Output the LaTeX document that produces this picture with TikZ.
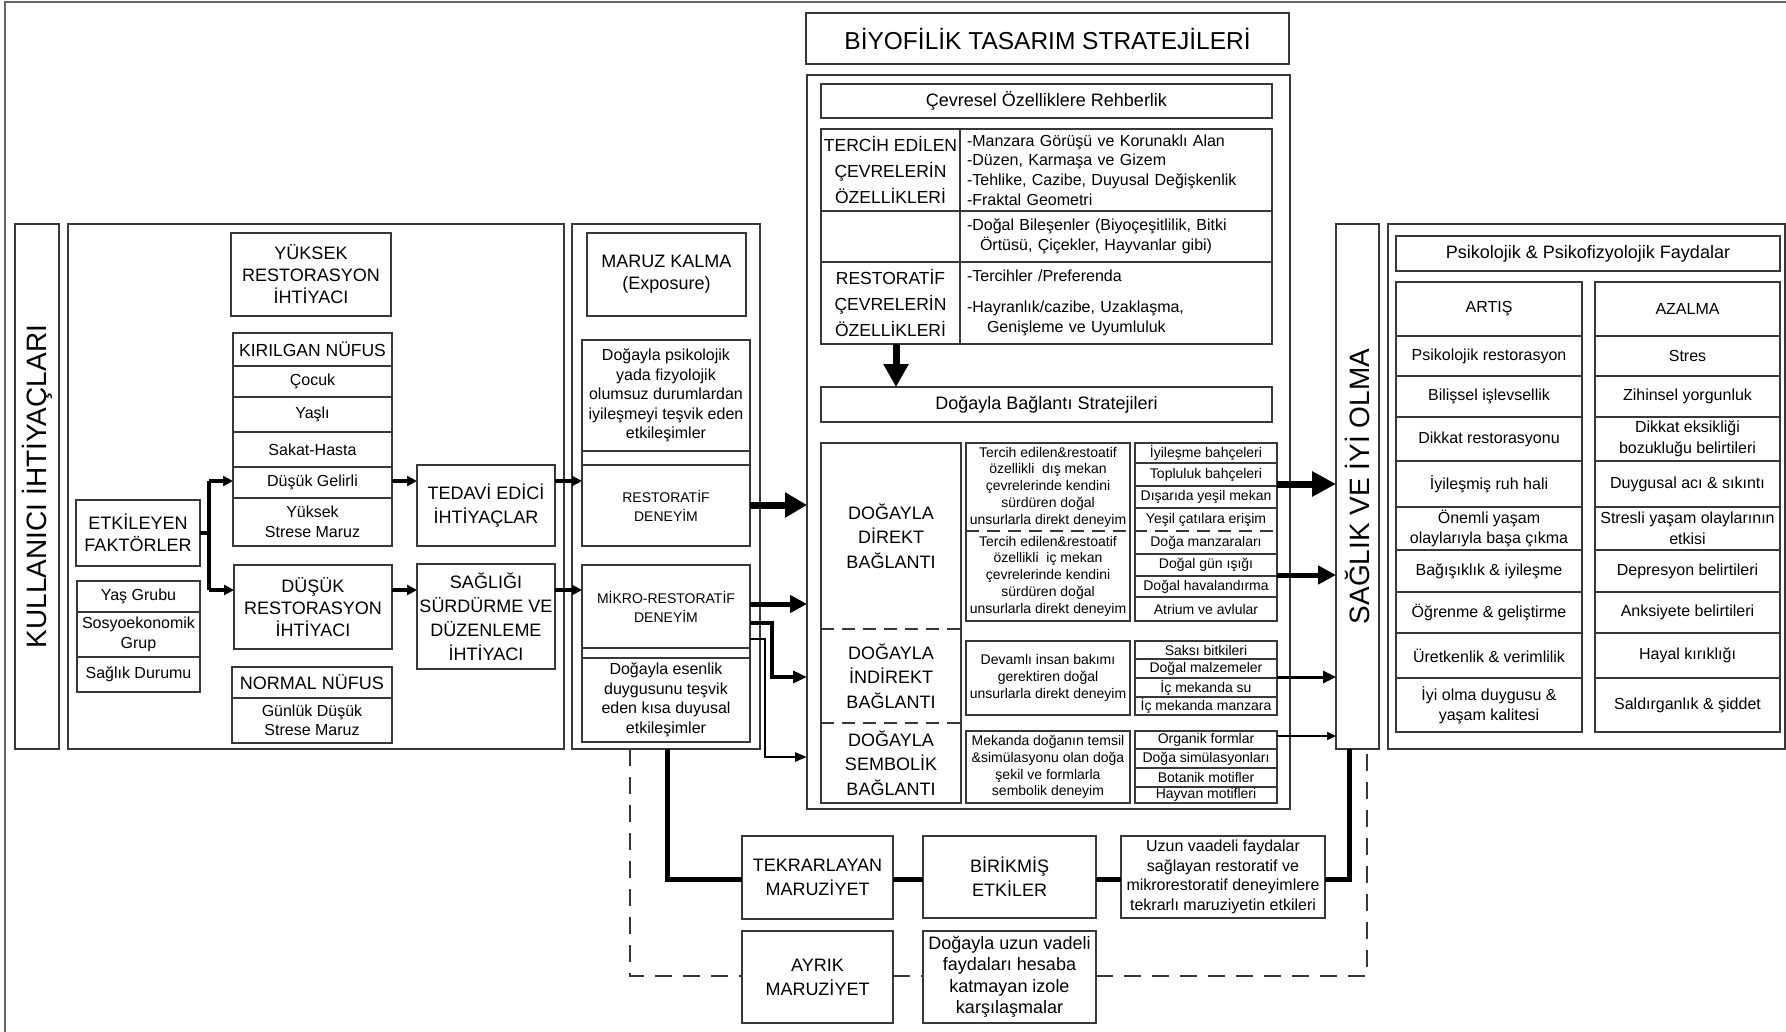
\documentclass[tikz,border=0pt]{standalone}
\usepackage{fontspec}
\usepackage{graphicx}
\setmainfont{Liberation Sans}
\usetikzlibrary{arrows.meta}

\newcommand{\bxn}[7][]{\node[bx,#1,minimum width={#5-#3},minimum height={#6-#4}] (#2) at ({(#3+#5)/2},{(#4+#6)/2}) {#7};}

\tikzset{
 bx/.style={draw=black!78, line width=1.8pt, inner sep=1pt, outer sep=0pt, align=center, text=black},
 nb/.style={draw=none},
 bxl/.style={draw=black!78, line width=1.8pt},
 frm/.style={draw=black!60, line width=2pt},
 dsh/.style={draw=black!78, line width=1.8pt, dash pattern=on 13pt off 8pt},
 dshb/.style={draw=black!78, line width=2pt, dash pattern=on 17pt off 11pt},
 thk/.style={draw=black, line width=5pt, line join=miter},
 cellR/.style={align=left, text width=298pt, inner xsep=7pt},
 f28/.style={font=\fontsize{28}{30}\selectfont},
 ftitle/.style={font=\fontsize{24.5}{28}\selectfont},
 f18/.style={font=\fontsize{18}{22}\selectfont},
 f18l/.style={font=\fontsize{18}{24}\selectfont},
 f18t/.style={font=\fontsize{17.5}{26}\selectfont},
 f18d/.style={font=\fontsize{18}{24.5}\selectfont},
 f18u/.style={font=\fontsize{18}{21.5}\selectfont},
 f175/.style={font=\fontsize{17.5}{20}\selectfont},
 f16/.style={font=\fontsize{16}{19.5}\selectfont},
 f16a/.style={font=\fontsize{16}{20.5}\selectfont},
 f16r/.style={font=\fontsize{16}{19.7}\selectfont},
 f14/.style={font=\fontsize{14}{16.7}\selectfont},
 f14r/.style={font=\fontsize{14}{16}\selectfont},
 f14s/.style={font=\fontsize{14}{19}\selectfont},
 sar/.style={draw=black, line width=3.5pt, -{Triangle[length=10pt,width=10pt]}},
 arA/.style={draw=black, line width=7pt, -{Triangle[length=22pt,width=24pt]}},
 arB/.style={draw=black, line width=5pt, -{Triangle[length=17pt,width=17pt]}},
 arC/.style={draw=black, line width=3.5pt, line join=miter, -{Triangle[length=14pt,width=12pt]}},
 arD/.style={draw=black, line width=2.5pt, line join=miter, -{Triangle[length=12pt,width=9pt]}},
 arA2/.style={draw=black, line width=7pt, -{Triangle[length=24pt,width=24pt]}},
 arB2/.style={draw=black, line width=5pt, -{Triangle[length=18pt,width=18pt]}},
 arC2/.style={draw=black, line width=3pt, -{Triangle[length=13pt,width=12pt]}},
 arD2/.style={draw=black, line width=2pt, -{Triangle[length=9pt,width=8pt]}},
 arDn/.style={draw=black, line width=7pt, -{Triangle[length=23pt,width=24pt]}},
}

\begin{document}
\begin{tikzpicture}[x=1pt,y=-1pt]
\useasboundingbox (0,0) rectangle (1786,1032);
\fill[white] (0,0) rectangle (1786,1032);
% outer frame (top and left)
\draw[frm] (5,1032) -- (5,2) -- (1786,2);

% ===== Left group =====
\bxn{kul}{15}{224}{59}{749}{\rotatebox{90}{\fontsize{28}{30}\selectfont KULLANICI İHTİYAÇLARI}}
\bxn{lmain}{68}{224}{564}{749}{}
\bxn[f18]{yuk}{231}{233}{391}{316}{YÜKSEK\\RESTORASYON\\İHTİYACI}
\bxn[f175]{kir}{233}{333}{392}{366}{KIRILGAN NÜFUS}
\bxn[f16]{coc}{233}{366}{392}{397}{Çocuk}
\bxn[f16]{yasli}{233}{397}{392}{432}{Yaşlı}
\bxn[f16]{sak}{233}{432}{392}{467}{Sakat-Hasta}
\bxn[f16]{dgel}{233}{467}{392}{498}{Düşük Gelirli}
\bxn[f16]{ystr}{233}{498}{392}{546}{Yüksek\\Strese Maruz}
\bxn[f18]{etk}{76}{500}{200}{566}{ETKİLEYEN\\FAKTÖRLER}
\bxn[f16]{yg}{77}{581}{200}{612}{Yaş Grubu}
\bxn[f16]{sos}{77}{612}{200}{657}{Sosyoekonomik\\Grup}
\bxn[f16]{sd}{77}{657}{200}{692}{Sağlık Durumu}
\bxn[f18]{dus}{234}{565}{392}{649}{DÜŞÜK\\RESTORASYON\\İHTİYACI}
\bxn[f18]{nor}{232}{667}{392}{698}{NORMAL NÜFUS}
\bxn[f16]{gun}{232}{698}{392}{743}{Günlük Düşük\\Strese Maruz}
\bxn[f18l]{ted}{417}{465}{555}{546}{TEDAVİ EDİCİ\\İHTİYAÇLAR}
\bxn[f18l]{sgl}{417}{564}{555}{669}{SAĞLIĞI\\SÜRDÜRME VE\\DÜZENLEME\\İHTİYACI}

\coordinate (br) at (209,533);
\coordinate (brT) at (209,481);
\coordinate (brB) at (209,590);
\draw[draw=black, line width=4pt] (etk.east |- br) -- (br);
\draw[draw=black, line width=4pt] (brT) -- (brB);
\draw[sar] (brT) -- (dgel.west |- brT);
\draw[sar] (brB) -- (dus.west |- brB);
\draw[sar] (dgel.east |- brT) -- (ted.west |- brT);
\draw[sar] (dus.east |- brB) -- (sgl.west |- brB);

% ===== Exposure column =====
\bxn{mcol}{572}{224}{760}{749}{}
\bxn[f18]{mar}{587}{233}{746}{316}{MARUZ KALMA\\(Exposure)}
\bxn[f16]{psk}{582}{340}{750}{451}{Doğayla psikolojik\\yada fizyolojik\\olumsuz durumlardan\\iyileşmeyi teşvik eden\\etkileşimler}
\bxn{strip}{582}{451}{750}{465}{}
\bxn[f14s]{rest}{582}{465}{750}{546}{RESTORATİF\\DENEYİM}
\bxn[f14s]{mik}{582}{565}{750}{648}{MİKRO-RESTORATİF\\DENEYİM}
\bxn{stripb}{582}{648}{750}{658}{}
\bxn[f16]{esen}{582}{658}{750}{742}{Doğayla esenlik\\duygusunu teşvik\\eden kısa duyusal\\etkileşimler}

\draw[sar] (ted.east |- brT) -- (rest.west |- brT);
\draw[sar] (sgl.east |- brB) -- (mik.west |- brB);

% ===== Strategies =====
\bxn[ftitle]{tit}{806}{13}{1289}{64}{BİYOFİLİK TASARIM STRATEJİLERİ}
\bxn{strat}{807}{75}{1290}{809}{}
\bxn[f18]{cev}{821}{84}{1272}{118}{Çevresel Özelliklere Rehberlik}
\bxn[f18t]{t1l}{821}{129}{960}{211}{TERCİH EDİLEN\\ÇEVRELERİN\\ÖZELLİKLERİ}
\bxn[f16r,cellR]{t1r}{960}{129}{1272}{211}{-Manzara Görüşü ve Korunaklı Alan\\-Düzen, Karmaşa ve Gizem\\-Tehlike, Cazibe, Duyusal Değişkenlik\\-Fraktal Geometri}
\bxn{t2l}{821}{211}{960}{262}{}
\bxn[f16r,cellR]{t2r}{960}{211}{1272}{262}{-Doğal Bileşenler (Biyoçeşitlilik, Bitki\\\hspace*{13pt}Örtüsü, Çiçekler, Hayvanlar gibi)}
\bxn[f18t]{t3l}{821}{262}{960}{344}{RESTORATİF\\ÇEVRELERİN\\ÖZELLİKLERİ}
\bxn[f16r,cellR]{t3r}{960}{262}{1272}{344}{-Tercihler /Preferenda\\[11pt]-Hayranlık/cazibe, Uzaklaşma,\\\hspace*{20pt}Genişleme ve Uyumluluk}
\bxn[f18]{bag}{821}{387}{1272}{422}{Doğayla Bağlantı Stratejileri}
\coordinate (dA) at (896,344);
\draw[arDn] (dA) -- (dA |- bag.north);

% left column of connection strategies
\bxn[nb,f18d]{d1}{821}{443}{961}{629}{DOĞAYLA\\DİREKT\\BAĞLANTI}
\bxn[nb,f18d]{d2}{821}{629}{961}{723}{DOĞAYLA\\İNDİREKT\\BAĞLANTI}
\bxn[nb,f18d]{d3}{821}{723}{961}{803}{DOĞAYLA\\SEMBOLİK\\BAĞLANTI}
\draw[bxl] (d1.north west) rectangle (d3.south east);
\draw[dsh] (d1.south west) -- (d1.south east);
\draw[dsh] (d2.south west) -- (d2.south east);

% middle column
\bxn[nb,f14]{a1}{966}{443}{1130}{531}{Tercih edilen\&restoatif\\özellikli\ \ dış mekan\\çevrelerinde kendini\\sürdüren doğal\\unsurlarla direkt deneyim}
\bxn[nb,f14]{a2}{966}{531}{1130}{621}{Tercih edilen\&restoatif\\özellikli\ \ iç mekan\\çevrelerinde kendini\\sürdüren doğal\\unsurlarla direkt deneyim}
\draw[bxl] (a1.north west) rectangle (a2.south east);
\bxn[f14]{b1}{966}{641}{1130}{715}{Devamlı insan bakımı\\gerektiren doğal\\unsurlarla direkt deneyim}
\bxn[f14]{c1}{966}{731}{1130}{803}{Mekanda doğanın temsil\\\&simülasyonu olan doğa\\şekil ve formlarla\\sembolik deneyim}

% right column
\bxn[nb,f14r]{ra1}{1135}{443}{1277}{463}{İyileşme bahçeleri}
\bxn[nb,f14r]{ra2}{1135}{463}{1277}{486}{Topluluk bahçeleri}
\bxn[nb,f14r]{ra3}{1135}{486}{1277}{508}{Dışarıda yeşil mekan}
\bxn[nb,f14r]{ra4}{1135}{508}{1277}{531}{Yeşil çatılara erişim}
\bxn[nb,f14r]{ra5}{1135}{531}{1277}{554}{Doğa manzaraları}
\bxn[nb,f14r]{ra6}{1135}{554}{1277}{576}{Doğal gün ışığı}
\bxn[nb,f14r]{ra7}{1135}{576}{1277}{597}{Doğal havalandırma}
\bxn[nb,f14r]{ra8}{1135}{597}{1277}{621}{Atrium ve avlular}
\draw[bxl] (ra1.north west) rectangle (ra8.south east);
\foreach \n in {ra1,ra2,ra3,ra5,ra6,ra7} \draw[bxl] (\n.south west) -- (\n.south east);
\draw[dsh] (a1.south west) -- (ra4.south east);

\bxn[f14r]{rb1}{1135}{641}{1277}{659}{Saksı bitkileri}
\bxn[f14r]{rb2}{1135}{659}{1277}{678}{Doğal malzemeler}
\bxn[f14r]{rb3}{1135}{678}{1277}{697}{İç mekanda su}
\bxn[f14r]{rb4}{1135}{697}{1277}{715}{İç mekanda manzara}
\bxn[f14r]{rc1}{1135}{731}{1277}{749}{Organik formlar}
\bxn[f14r]{rc2}{1135}{749}{1277}{768}{Doğa simülasyonları}
\bxn[f14r]{rc3}{1135}{768}{1277}{787}{Botanik motifler}
\bxn[f14r]{rc4}{1135}{787}{1277}{803}{Hayvan motifleri}

% arrows from exposure into strategies
\draw[arA] (rest.east |- 0,505) -- (strat.west |- 0,505);
\draw[arB] (mik.east |- 0,604) -- (strat.west |- 0,604);
\draw[arC] (mik.east |- 0,623) -| (772,677) -- (strat.west |- 0,677);
\draw[arD] (mik.east |- 0,639) -| (765,757) -- (strat.west |- 0,757);

% ===== Health column =====
\bxn{sag}{1336}{224}{1379}{749}{\rotatebox{90}{\fontsize{28}{30}\selectfont SAĞLIK VE İYİ OLMA}}
\draw[arA2] (ra2.east |- 0,484) -- (sag.west |- 0,484);
\draw[arB2] (ra6.east |- 0,575) -- (sag.west |- 0,575);
\draw[arC2] (rb2.east |- 0,677) -- (sag.west |- 0,677);
\draw[arD2] (rc1.east |- 0,736) -- (sag.west |- 0,736);

% ===== Benefits =====
\bxn{rbox}{1388}{224}{1785}{749}{}
\bxn[f18]{psy}{1396}{236}{1780}{271}{Psikolojik \& Psikofizyolojik Faydalar}
\bxn[f16a]{p1}{1396}{282}{1582}{336}{ARTIŞ}
\bxn[f16a]{p2}{1396}{336}{1582}{376}{Psikolojik restorasyon}
\bxn[f16a]{p3}{1396}{376}{1582}{417}{Bilişsel işlevsellik}
\bxn[f16a]{p4}{1396}{417}{1582}{461}{Dikkat restorasyonu}
\bxn[f16a]{p5}{1396}{461}{1582}{507}{İyileşmiş ruh hali}
\bxn[f16a]{p6}{1396}{507}{1582}{550}{Önemli yaşam\\olaylarıyla başa çıkma}
\bxn[f16a]{p7}{1396}{550}{1582}{592}{Bağışıklık \& iyileşme}
\bxn[f16a]{p8}{1396}{592}{1582}{633}{Öğrenme \& geliştirme}
\bxn[f16a]{p9}{1396}{633}{1582}{678}{Üretkenlik \& verimlilik}
\bxn[f16a]{p10}{1396}{678}{1582}{732}{İyi olma duygusu \&\\yaşam kalitesi}
\bxn[f16a]{q1}{1595}{282}{1780}{336}{AZALMA}
\bxn[f16a]{q2}{1595}{336}{1780}{376}{Stres}
\bxn[f16a]{q3}{1595}{376}{1780}{417}{Zihinsel yorgunluk}
\bxn[f16a]{q4}{1595}{417}{1780}{461}{Dikkat eksikliği\\bozukluğu belirtileri}
\bxn[f16a]{q5}{1595}{461}{1780}{507}{Duygusal acı \& sıkıntı}
\bxn[f16a]{q6}{1595}{507}{1780}{550}{Stresli yaşam olaylarının\\etkisi}
\bxn[f16a]{q7}{1595}{550}{1780}{592}{Depresyon belirtileri}
\bxn[f16a]{q8}{1595}{592}{1780}{633}{Anksiyete belirtileri}
\bxn[f16a]{q9}{1595}{633}{1780}{678}{Hayal kırıklığı}
\bxn[f16a]{q10}{1595}{678}{1780}{732}{Saldırganlık \& şiddet}

% ===== Bottom =====
\bxn[f18l]{tek}{742}{836}{893}{919}{TEKRARLAYAN\\MARUZİYET}
\bxn[f18l]{bir}{923}{836}{1096}{918}{BİRİKMİŞ\\ETKİLER}
\bxn[font=\fontsize{16}{19.5}\selectfont]{uzn}{1121}{836}{1325}{918}{Uzun vaadeli faydalar\\sağlayan restoratif ve\\mikrorestoratif deneyimlere\\tekrarlı maruziyetin etkileri}
\bxn[f18l]{ayr}{742}{931}{893}{1023}{AYRIK\\MARUZİYET}
\bxn[f18u]{dgu}{923}{931}{1096}{1023}{Doğayla uzun vadeli\\faydaları hesaba\\katmayan izole\\karşılaşmalar}

\draw[thk] (mcol.south -| 667,0) |- (tek.west |- 0,879);
\draw[thk] (tek.east |- 0,879) -- (bir.west |- 0,879);
\draw[thk] (bir.east |- 0,879) -- (uzn.west |- 0,879);
\draw[thk] (uzn.east |- 0,879) -| (sag.south -| 1349,0);

\draw[dshb] (mcol.south -| 630,0) |- (ayr.west |- 0,976);
\draw[dshb] (ayr.east |- 0,976) -- (dgu.west |- 0,976);
\draw[dshb] (dgu.east |- 0,976) -| (sag.south -| 1367,0);
\end{tikzpicture}
\end{document}
